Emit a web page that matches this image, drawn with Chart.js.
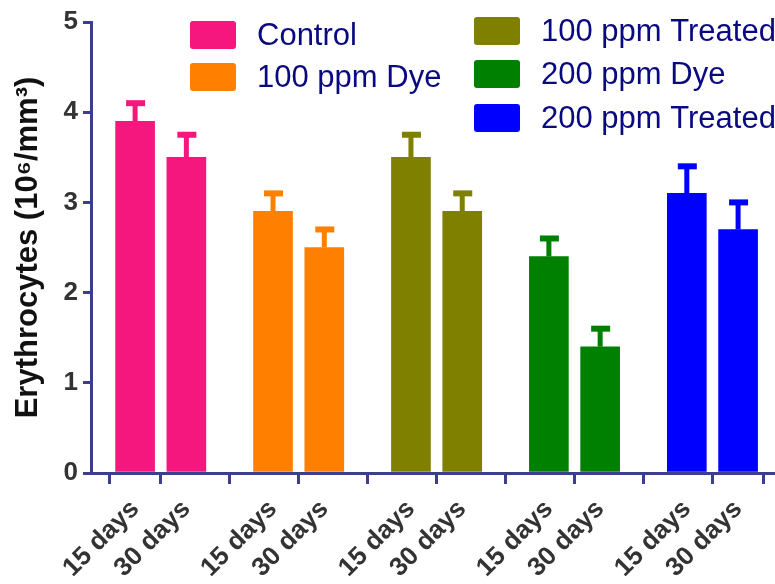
<!DOCTYPE html>
<html>
<head>
<meta charset="utf-8">
<script src="https://cdn.jsdelivr.net/npm/chart.js@4.4.1/dist/chart.umd.min.js"></script>
<style>
  html, body { margin: 0; padding: 0; background: #fff; }
  #wrap { width: 775px; height: 584px; position: relative; }
</style>
</head>
<body>
<div id="wrap"><canvas id="chart"></canvas></div>
<script>
// groups and time points
const groups = ['Control', '100 ppm Dye', '100 ppm Treated', '200 ppm Dye', '200 ppm Treated'];
const days = ['15 days', '30 days'];

// mean erythrocyte counts (10^6/mm^3), [15 days, 30 days]
const controlMean = [3.9, 3.5];
const dye100Mean = [2.9, 2.5];
const treated100Mean = [3.5, 2.9];
const dye200Mean = [2.4, 1.4];
const treated200Mean = [3.1, 2.7];

// error bar sizes (upper only)
const controlErr = [0.2, 0.25];
const dye100Err = [0.2, 0.2];
const treated100Err = [0.25, 0.2];
const dye200Err = [0.2, 0.2];
const treated200Err = [0.3, 0.3];

const yTicks = [0, 1, 2, 3, 4, 5];

const groupColors = ['#F5167E', '#FF8000', '#808000', '#008000', '#0000FF'];
const axisColor = '#3A3E8C';
const fontFamily = "'Liberation Sans', Arial, sans-serif";

const means = [controlMean, dye100Mean, treated100Mean, dye200Mean, treated200Mean];
const errs = [controlErr, dye100Err, treated100Err, dye200Err, treated200Err];

// x position of a bar: groups are spaced a bit wider than the two days
const groupStep = 2.69;
const xPos = (g, d) => g * groupStep + d;

const tickValues = [];
const tickLabels = [];
groups.forEach((g, gi) => days.forEach((d, di) => {
    tickValues.push(xPos(gi, di));
    tickLabels.push(d);
}));

const datasets = groups.map((name, gi) => ({
    label: name,
    data: means[gi].map((v, di) => ({x: xPos(gi, di), y: v})),
    errors: errs[gi],
    backgroundColor: groupColors[gi],
    borderWidth: 0,
    barThickness: 39,
    grouped: false,
}));

// upper error bars, drawn before the bars so the stem hides under them
const errorBars = {
    id: 'errorBars',
    beforeDatasetsDraw(chart) {
        const ctx = chart.ctx;
        const xs = chart.scales.x, ys = chart.scales.y;
        chart.data.datasets.forEach(ds => {
            ctx.save();
            ctx.fillStyle = ds.backgroundColor;
            ds.data.forEach((p, i) => {
                const cx = xs.getPixelForValue(p.x);
                const top = ys.getPixelForValue(p.y + ds.errors[i]);
                const base = ys.getPixelForValue(p.y);
                ctx.fillRect(cx - 2.5, top, 5, base - top);
                ctx.fillRect(cx - 9, top - 3, 19, 6);
            });
            ctx.restore();
        });
    }
};

// two-column legend in the top area
const legendSlots = [
    {x: 190, y: 35}, {x: 190, y: 77},
    {x: 474, y: 31}, {x: 474, y: 74}, {x: 474, y: 118},
];
const sideLegend = {
    id: 'sideLegend',
    afterDraw(chart) {
        const ctx = chart.ctx;
        ctx.save();
        ctx.font = '31px ' + fontFamily;
        ctx.textBaseline = 'middle';
        chart.data.datasets.forEach((ds, i) => {
            const s = legendSlots[i];
            ctx.fillStyle = ds.backgroundColor;
            ctx.beginPath();
            ctx.roundRect(s.x, s.y - 14, 46, 28, 3);
            ctx.fill();
            ctx.fillStyle = '#0A0A80';
            ctx.fillText(ds.label, s.x + 67, s.y + 1);
        });
        ctx.restore();
    }
};

new Chart(document.getElementById('chart'), {
    type: 'bar',
    data: { datasets: datasets },
    plugins: [errorBars, sideLegend],
    options: {
        responsive: true,
        maintainAspectRatio: false,
        animation: false,
        layout: { padding: { top: 22, right: 0, left: 0, bottom: 0 } },
        plugins: {
            legend: { display: false },
            tooltip: { enabled: false },
        },
        scales: {
            x: {
                type: 'linear',
                min: -0.86,
                max: 12.48,
                offset: false,
                afterBuildTicks: scale => {
                    scale.ticks = tickValues.map(v => ({value: v}));
                },
                afterFit: scale => { scale.height = 111; },
                border: { color: axisColor, width: 3 },
                grid: {
                    drawOnChartArea: false,
                    drawTicks: true,
                    tickLength: 11,
                    color: axisColor,
                    lineWidth: 3,
                },
                ticks: {
                    autoSkip: false,
                    minRotation: 45,
                    maxRotation: 45,
                    padding: 10,
                    color: '#333333',
                    font: { family: fontFamily, size: 26, weight: 'bold' },
                    callback: (value, index) => tickLabels[index],
                },
            },
            y: {
                min: 0,
                max: 5,
                afterBuildTicks: scale => {
                    scale.ticks = yTicks.map(v => ({value: v}));
                },
                afterFit: scale => { scale.width = 91; },
                border: { color: axisColor, width: 3 },
                grid: {
                    drawOnChartArea: false,
                    drawTicks: true,
                    tickLength: 8,
                    color: axisColor,
                    lineWidth: 3,
                },
                ticks: {
                    padding: 5,
                    color: '#333333',
                    font: { family: fontFamily, size: 26, weight: 'bold' },
                },
                title: {
                    display: true,
                    text: 'Erythrocytes (10\u2076/mm\u00B3)',
                    color: '#111111',
                    padding: { top: 10, bottom: 0 },
                    font: { family: fontFamily, size: 31, weight: 'bold' },
                },
            },
        },
    },
});
</script>
</body>
</html>
